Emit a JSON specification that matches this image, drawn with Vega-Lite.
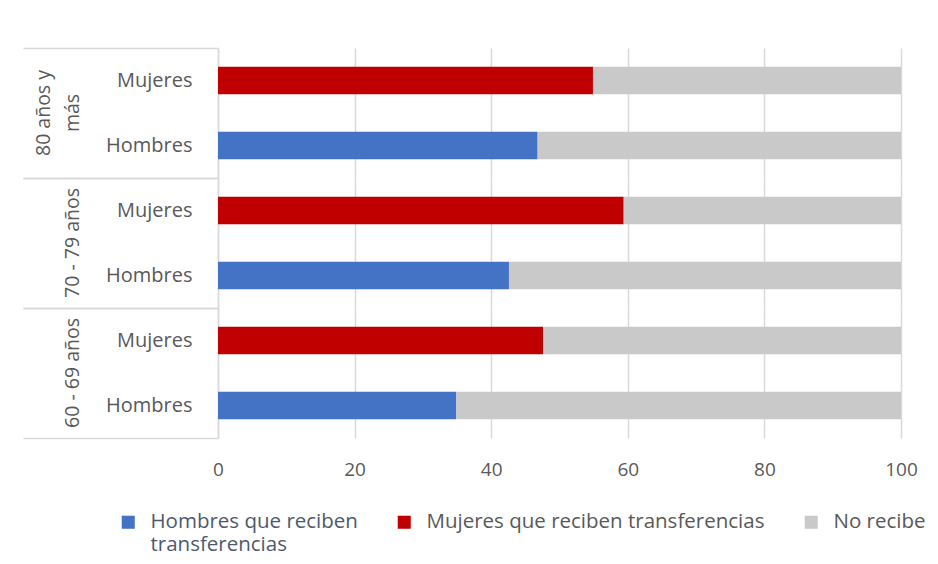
{
  "$schema": "https://vega.github.io/schema/vega-lite/v6.json",
  "padding": {"left": 22, "top": 47, "right": 0, "bottom": 0},
  "background": "white",
  "data": {"values": [
    {"grupo": "80 años y más", "sexo": "Mujeres", "serie": "Mujeres que reciben transferencias", "orden": 1, "valor": 54.9},
    {"grupo": "80 años y más", "sexo": "Mujeres", "serie": "No recibe", "orden": 2, "valor": 45.1},
    {"grupo": "80 años y más", "sexo": "Hombres", "serie": "Hombres que reciben transferencias", "orden": 1, "valor": 46.8},
    {"grupo": "80 años y más", "sexo": "Hombres", "serie": "No recibe", "orden": 2, "valor": 53.2},
    {"grupo": "70 - 79 años", "sexo": "Mujeres", "serie": "Mujeres que reciben transferencias", "orden": 1, "valor": 59.4},
    {"grupo": "70 - 79 años", "sexo": "Mujeres", "serie": "No recibe", "orden": 2, "valor": 40.6},
    {"grupo": "70 - 79 años", "sexo": "Hombres", "serie": "Hombres que reciben transferencias", "orden": 1, "valor": 42.6},
    {"grupo": "70 - 79 años", "sexo": "Hombres", "serie": "No recibe", "orden": 2, "valor": 57.4},
    {"grupo": "60 - 69 años", "sexo": "Mujeres", "serie": "Mujeres que reciben transferencias", "orden": 1, "valor": 47.6},
    {"grupo": "60 - 69 años", "sexo": "Mujeres", "serie": "No recibe", "orden": 2, "valor": 52.4},
    {"grupo": "60 - 69 años", "sexo": "Hombres", "serie": "Hombres que reciben transferencias", "orden": 1, "valor": 34.9},
    {"grupo": "60 - 69 años", "sexo": "Hombres", "serie": "No recibe", "orden": 2, "valor": 65.1}
  ]},
  "facet": {
    "row": {
      "field": "grupo",
      "type": "nominal",
      "sort": ["80 años y más", "70 - 79 años", "60 - 69 años"],
      "title": null,
      "header": {
        "labelOrient": "left",
        "labelAngle": -90,
        "labelAlign": "center",
        "labelBaseline": "bottom",
        "labelPadding": -80,
        "labelFont": "Open Sans",
        "labelFontSize": 19.5,
        "labelColor": "#595959",
        "labelLineHeight": 29,
        "labelExpr": "datum.value == '80 años y más' ? ['80 años y', 'más'] : datum.value"
      }
    }
  },
  "spacing": {"row": 0},
  "spec": {
    "width": 683,
    "height": 130,
    "layer": [
      {
        "mark": {"type": "bar", "height": {"band": 0.42}},
        "encoding": {
          "y": {
            "field": "sexo",
            "type": "nominal",
            "sort": ["Mujeres", "Hombres"],
            "scale": {"padding": 0},
            "axis": {
              "title": null,
              "orient": "left",
              "domain": true,
              "domainColor": "#D9D9D9",
              "domainWidth": 1.5,
              "ticks": true,
              "tickOffset": -32.5,
              "labelOffset": 32.5,
              "tickSize": 195,
              "tickWidth": 1.5,
              "tickColor": {"condition": {"test": "datum.value === 'Mujeres'", "value": "#D9D9D9"}, "value": "transparent"},
              "labelPadding": -169,
              "labelFont": "Open Sans",
              "labelFontSize": 20,
              "labelColor": "#595959"
            }
          },
          "x": {
            "field": "valor",
            "type": "quantitative",
            "stack": "zero",
            "scale": {"domain": [0, 100], "nice": false},
            "axis": {
              "title": null,
              "values": [0, 20, 40, 60, 80, 100],
              "grid": true,
              "gridColor": "#D9D9D9",
              "gridWidth": 1.5,
              "ticks": false,
              "domain": false,
              "labelPadding": 22,
              "labelFlush": false,
              "labelFont": "Open Sans",
              "labelFontSize": 19,
              "labelColor": "#595959"
            }
          },
          "color": {
            "field": "serie",
            "type": "nominal",
            "scale": {
              "domain": ["Hombres que reciben transferencias", "Mujeres que reciben transferencias", "No recibe"],
              "range": ["#4472C4", "#C00000", "#C9C9C9"]
            },
            "legend": {
              "title": null,
              "orient": "none",
              "legendX": -100,
              "legendY": 464,
              "direction": "horizontal",
              "symbolType": "square",
              "symbolSize": 170,
              "symbolStrokeWidth": 0,
              "gridAlign": "none",
              "columnPadding": 36,
              "labelOffset": 12,
              "labelFont": "Open Sans",
              "labelFontSize": 20.5,
              "labelColor": {"expr": "datum.value == 'Hombres que reciben transferencias' ? '#4B5A6E' : '#595959'"},
              "labelLimit": 420,
              "labelLineHeight": 27,
              "labelExpr": "datum.value == 'Hombres que reciben transferencias' ? ['Hombres que reciben', 'transferencias'] : datum.value"
            }
          },
          "order": {"field": "orden", "type": "quantitative"}
        }
      },
      {
        "mark": {"type": "rule", "strokeOpacity": 0},
        "encoding": {
          "y": {
            "field": "sexo",
            "type": "nominal",
            "sort": ["Mujeres", "Hombres"],
            "axis": {
              "title": null,
              "orient": "left",
              "domain": false,
              "labels": false,
              "grid": false,
              "ticks": true,
              "tickOffset": 32.5,
              "tickSize": 195,
              "tickWidth": 1.5,
              "tickColor": {"condition": {"test": "datum.value === 'Hombres'", "value": "#D9D9D9"}, "value": "transparent"}
            }
          }
        }
      }
    ],
    "resolve": {"axis": {"y": "independent"}}
  },
  "config": {
    "view": {"stroke": null},
    "font": "Open Sans"
  }
}
